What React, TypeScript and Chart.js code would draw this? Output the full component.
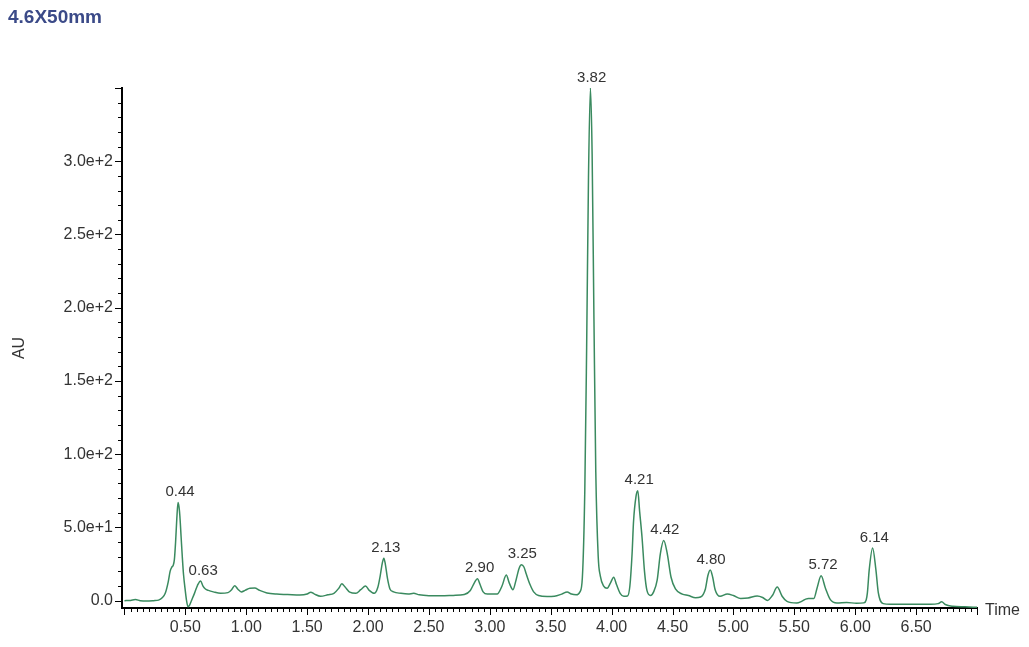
import React, { useEffect, useRef } from "react";
import { Chart, registerables } from "chart.js";

Chart.register(...registerables);

// ---- data ----
const chartTitle = "4.6X50mm";
const xAxisTitle = "Time";
const yAxisTitle = "AU";

const traceTime = [
  0.0, 0.05, 0.09, 0.13, 0.18, 0.24, 0.28, 0.31, 0.335, 0.36, 0.375, 0.39, 0.4, 0.41, 0.42, 0.43, 0.44, 0.448,
  0.455, 0.465, 0.475, 0.485, 0.5, 0.51, 0.522, 0.535, 0.55, 0.575, 0.6, 0.625, 0.645, 0.665, 0.69, 0.73, 0.79,
  0.85, 0.88, 0.905, 0.93, 0.96, 0.99, 1.03, 1.07, 1.11, 1.17, 1.25, 1.34, 1.44, 1.5, 1.53, 1.56, 1.61, 1.67,
  1.72, 1.76, 1.785, 1.81, 1.85, 1.9, 1.94, 1.98, 2.01, 2.05, 2.08, 2.1, 2.118, 2.13, 2.142, 2.16, 2.18, 2.21,
  2.27, 2.33, 2.375, 2.42, 2.5, 2.6, 2.7, 2.79, 2.84, 2.875, 2.898, 2.92, 2.945, 2.98, 3.06, 3.1, 3.135, 3.16,
  3.19, 3.215, 3.24, 3.26, 3.28, 3.3, 3.33, 3.36, 3.4, 3.47, 3.53, 3.59, 3.635, 3.67, 3.71, 3.74, 3.76, 3.78,
  3.795, 3.81, 3.826, 3.84, 3.855, 3.87, 3.89, 3.907, 3.935, 3.963, 3.99, 4.017, 4.04, 4.07, 4.1, 4.13, 4.15,
  4.168, 4.18, 4.2, 4.215, 4.23, 4.25, 4.27, 4.29, 4.32, 4.345, 4.374, 4.4, 4.428, 4.455, 4.488, 4.524, 4.58,
  4.63, 4.69, 4.73, 4.77, 4.79, 4.81, 4.83, 4.85, 4.89, 4.95, 5.0, 5.06, 5.12, 5.195, 5.24, 5.28, 5.32, 5.36,
  5.4, 5.44, 5.52, 5.56, 5.605, 5.66, 5.687, 5.72, 5.755, 5.796, 5.85, 5.93, 6.01, 6.07, 6.09, 6.1, 6.115,
  6.143, 6.17, 6.19, 6.23, 6.29, 6.4, 6.5, 6.62, 6.68, 6.71, 6.74, 6.8, 6.9, 7.0,
];

const traceAU = [
  0.0, 0.2, 0.8, 0.0, -0.3, 0.0, 0.4, 2.0, 5.0, 13, 20, 23, 24, 28, 40, 56, 67, 64,
  58, 44, 30, 18, 6.5, 0, -4.2, -3, 0, 5, 10.5, 13.5, 10, 8, 7, 6, 5,
  5.5, 7.5, 10.2, 8, 6, 7, 8.5, 8.6, 7, 5.3, 4.5, 4.2, 3.8, 4.5, 5.8, 4.5, 3, 4,
  5, 8.5, 11.5, 9.5, 5.8, 5, 7.5, 10, 7, 5, 9, 17, 26, 29, 25, 15, 8, 6,
  5, 4.5, 5, 4, 3.4, 3.3, 3.6, 4.2, 7, 12.5, 15, 11, 6, 4.5, 4.5, 10, 17.5, 12,
  7.5, 14, 22, 24.5, 23, 18, 11, 6, 3.5, 2.8, 3, 4.5, 6, 4.5, 4, 6, 16, 76,
  173, 288, 350, 305, 192, 88, 30, 17, 10, 8.5, 12, 16, 11, 5, 3, 3.2, 10,
  32, 54, 71, 75, 61, 43, 20, 7, 3.5, 6, 14, 32, 41, 33, 16, 8, 4.5,
  3.5, 2, 2.5, 8, 17, 21, 16, 7.5, 3, 4.6, 3.5, 1.5, 1.8, 3.2, 2.2, 0.2, 3.5, 9.3,
  3, -0.5, -1.6, -0.5, 1.4, 1.5, 8.7, 17, 8.7, 0.7, -1.6, -1.2, -1.8, -1.5, 0.5, 5.3, 21,
  36, 21, 5.3, -2, -2.5, -2.5, -2.4, -2.4, -2, -0.8, -2.6, -3.8, -4.2, -4.5,
];

const peakTimes = [0.44, 0.63, 2.13, 2.9, 3.25, 3.82, 4.21, 4.42, 4.8, 5.72, 6.14];
const peakHeights = [67, 13.5, 29, 15, 24.5, 350, 75, 41, 21, 17, 36];

const xLabelTicks = [0.5, 1.0, 1.5, 2.0, 2.5, 3.0, 3.5, 4.0, 4.5, 5.0, 5.5, 6.0, 6.5];
const yLabelTicks = [0, 50, 100, 150, 200, 250, 300];

const FONT = "'Liberation Sans', Arial, sans-serif";
const TRACE_COLOR = "#3a8a5f";
const TEXT_COLOR = "#333333";

const near = (v: number, arr: number[]) => arr.some((a) => Math.abs(a - v) < 1e-6);
const isMult = (v: number, m: number) => Math.abs(v / m - Math.round(v / m)) < 1e-6;

const decorPlugin = {
  id: "decor",
  afterDraw(chart: any) {
    const ctx = chart.ctx;
    const xs = chart.scales.x;
    const ys = chart.scales.y;
    const area = chart.chartArea;
    ctx.save();
    // minor / major ticks
    ctx.strokeStyle = "#000";
    ctx.lineWidth = 1;
    ctx.beginPath();
    xs.ticks.forEach((t: any) => {
      const px = Math.round(xs.getPixelForValue(t.value)) + 0.5;
      const len = isMult(t.value, 0.5) ? 7 : 4;
      ctx.moveTo(px, area.bottom);
      ctx.lineTo(px, area.bottom + len);
    });
    ys.ticks.forEach((t: any) => {
      const py = Math.round(ys.getPixelForValue(t.value)) + 0.5;
      const len = isMult(t.value, 50) ? 7 : 4;
      ctx.moveTo(area.left, py);
      ctx.lineTo(area.left - len, py);
    });
    ctx.stroke();

    // peak labels
    ctx.fillStyle = TEXT_COLOR;
    ctx.font = `15px ${FONT}`;
    ctx.textAlign = "center";
    ctx.textBaseline = "bottom";
    peakTimes.forEach((t, i) => {
      const px = xs.getPixelForValue(t);
      const py = ys.getPixelForValue(peakHeights[i]);
      ctx.fillText(t.toFixed(2), px + 2, py - 3);
    });

    // "Time" at the end of the x axis
    ctx.font = `16px ${FONT}`;
    ctx.textAlign = "left";
    ctx.textBaseline = "middle";
    ctx.fillText(xAxisTitle, area.right + 8, area.bottom + 3);

    // title
    ctx.font = `bold 19px ${FONT}`;
    ctx.fillStyle = "#3b4a88";
    ctx.textBaseline = "middle";
    ctx.fillText(chartTitle, 8, 18);
    ctx.restore();
  },
};

export default function App() {
  const ref = useRef<HTMLCanvasElement | null>(null);

  useEffect(() => {
    if (!ref.current) return;
    const points = traceTime.map((t, i) => ({ x: t, y: traceAU[i] }));
    const chart = new Chart(ref.current, {
      type: "line",
      data: {
        datasets: [
          {
            data: points,
            borderColor: TRACE_COLOR,
            borderWidth: 1.5,
            pointRadius: 0,
            cubicInterpolationMode: "monotone",
            fill: false,
          },
        ],
      },
      options: {
        animation: false,
        responsive: false,
        layout: { padding: { top: 88, right: 52, bottom: 0, left: 0 } },
        plugins: { legend: { display: false }, tooltip: { enabled: false }, title: { display: false } },
        scales: {
          x: {
            type: "linear",
            min: -0.02,
            max: 7.0,
            afterFit: (s: any) => {
              s.height = 39;
            },
            border: { display: true, color: "#000", width: 2 },
            grid: { display: true, drawOnChartArea: false, drawTicks: true, tickLength: 7, tickColor: "rgba(0,0,0,0)" },
            ticks: {
              stepSize: 0.05,
              includeBounds: false,
              autoSkip: false,
              maxRotation: 0,
              minRotation: 0,
              padding: 3,
              color: TEXT_COLOR,
              font: { family: FONT, size: 16 },
              callback: (v: any) => (near(Number(v), xLabelTicks) ? Number(v).toFixed(2) : ""),
            },
          },
          y: {
            type: "linear",
            min: -5,
            max: 350,
            afterFit: (s: any) => {
              s.width = 122;
            },
            border: { display: true, color: "#000", width: 2 },
            grid: { display: true, drawOnChartArea: false, drawTicks: true, tickLength: 7, tickColor: "rgba(0,0,0,0)" },
            title: {
              display: true,
              text: yAxisTitle,
              color: TEXT_COLOR,
              font: { family: FONT, size: 16 },
              padding: { top: 10, bottom: 0 },
            },
            ticks: {
              stepSize: 10,
              includeBounds: false,
              autoSkip: false,
              padding: 2,
              color: TEXT_COLOR,
              font: { family: FONT, size: 16 },
              callback: (v: any) => {
                const n = Number(v);
                if (!near(n, yLabelTicks)) return "";
                return n === 0 ? "0.0" : n.toExponential(1);
              },
            },
          },
        },
      },
      plugins: [decorPlugin],
    });
    return () => chart.destroy();
  }, []);

  return (
    <canvas
      ref={ref}
      width={1029}
      height={647}
      style={{ position: "fixed", left: 0, top: 0, display: "block", background: "#fff" }}
    />
  );
}
